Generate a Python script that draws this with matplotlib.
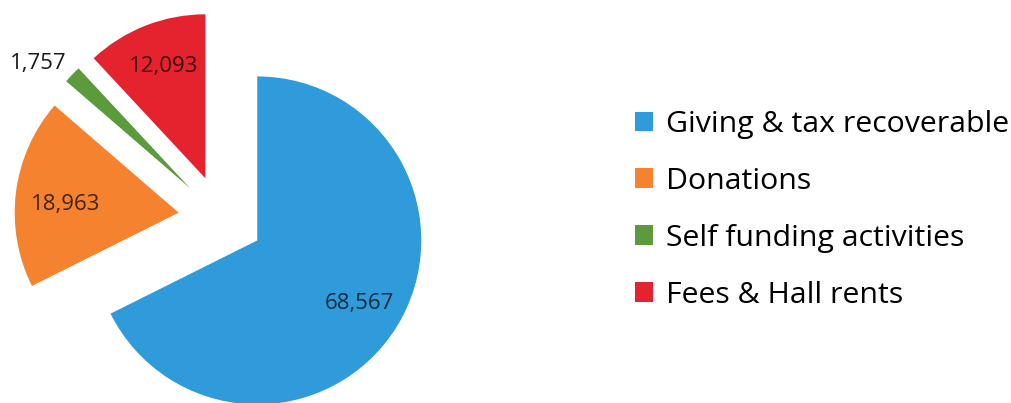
import matplotlib.pyplot as plt
import numpy as np

# Data
labels = ['Giving & tax recoverable', 'Donations', 'Self funding activities', 'Fees & Hall rents']
values = [68567, 18963, 1757, 12093]
value_text = ['68,567', '18,963', '1,757', '12,093']
colors = ['#2F9BDB', '#F5822F', '#5B9B3C', '#E5232E']

plt.rcParams['font.family'] = ['Open Sans', 'DejaVu Sans']

W, H = 1012, 403
R = 164.0        # pie radius in pixels
cx, cy = 221, 218  # pie centre in pixels (from top-left)

fig = plt.figure(figsize=(W / 100, H / 100), dpi=100)
ax = fig.add_axes([0, 0, 1, 1])

wedges, _ = ax.pie(values, colors=colors, startangle=90, counterclock=False,
                   explode=[0.26] * 4, radius=1.0,
                   wedgeprops=dict(linewidth=0))

# map the pie into pixel layout: 1 data unit = R pixels
ax.set_xlim(-cx / R, (W - cx) / R)
ax.set_ylim(-(H - cy) / R, cy / R)
ax.set_aspect('equal', adjustable='datalim')
ax.axis('off')

# value labels from wedge geometry
dists = [0.73, 0.69, 1.20, 0.73]
shifts = [0, 3, 4.5, -1]
for w, txt, d, sh, inside in zip(wedges, value_text, dists, shifts,
                                 [True, True, False, True]):
    mid = np.deg2rad((w.theta1 + w.theta2) / 2 + sh)
    x0, y0 = w.center
    ax.text(x0 + d * np.cos(mid), y0 + d * np.sin(mid), txt,
            ha='center', va='center', fontsize=16,
            color='black', alpha=0.72 if inside else 0.9)

ax.legend(wedges, labels, loc='upper left', bbox_to_anchor=(635 / W, 1 - 110 / H),
          bbox_transform=fig.transFigure, frameon=False, fontsize=21.8,
          handlelength=0.61, handleheight=0.61, handletextpad=0.4,
          labelspacing=0.92, borderpad=0, borderaxespad=0)

fig.savefig('out.png', dpi=100)
